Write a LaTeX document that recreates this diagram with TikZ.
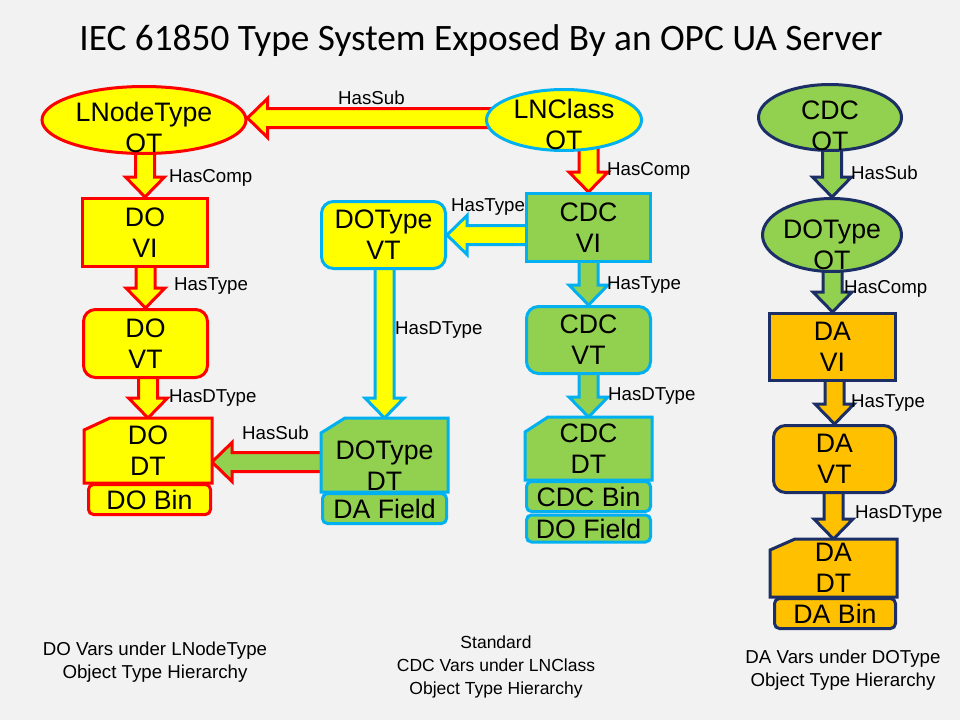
\documentclass[tikz,border=0pt]{standalone}
\usepackage{fontspec}
\setmainfont{Liberation Sans}
\newfontfamily\titlefont{Carlito}
\usetikzlibrary{shapes.geometric,calc}
\definecolor{bgc}{HTML}{F2F2F2}
\definecolor{cyel}{HTML}{FFFF00}
\definecolor{cred}{HTML}{FF0000}
\definecolor{cblu}{HTML}{00B0F0}
\definecolor{cgrn}{HTML}{92D050}
\definecolor{corg}{HTML}{FFC000}
\definecolor{cnav}{HTML}{1B2F66}
\pgfdeclarelayer{bgl}\pgfdeclarelayer{arrl}\pgfdeclarelayer{shpl}
\pgfsetlayers{bgl,arrl,shpl,main}

\newcommand\blkdown[3]{%
 \begin{pgfonlayer}{arrl}
 \draw[#1] let \p1=(#2.center), \p2=(#3.north) in
 ({\x2-9.5pt},\y1) -- ({\x2+9.5pt},\y1) -- ({\x2+9.5pt},{\y2+20pt}) -- ({\x2+19.5pt},{\y2+20pt}) -- (\x2,\y2) -- ({\x2-19.5pt},{\y2+20pt}) -- ({\x2-9.5pt},{\y2+20pt}) -- cycle;
 \end{pgfonlayer}}

\newcommand\blkleft[4]{%
 \begin{pgfonlayer}{arrl}
 \draw[#1] let \p1=(#2.center), \p2=(#3.east) in
 (\x1,{\y2+(#4)-9.5pt}) -- (\x1,{\y2+(#4)+9.5pt}) -- ({\x2+20pt},{\y2+(#4)+9.5pt}) -- ({\x2+20pt},{\y2+(#4)+19.5pt}) -- (\x2,{\y2+(#4)}) -- ({\x2+20pt},{\y2+(#4)-19.5pt}) -- ({\x2+20pt},{\y2+(#4)-9.5pt}) -- cycle;
 \end{pgfonlayer}}

\newcommand\chamf[4]{%
 \begin{pgfonlayer}{shpl}
 \filldraw[#1] let \p1=(#2.north west), \p2=(#2.south east) in
 (\x1,{\y1-#4}) -- ({\x1+#3},\y1) -- (\x2,\y1) -- (\x2,\y2) -- (\x1,\y2) -- cycle;
 \end{pgfonlayer}}

\begin{document}
\begin{tikzpicture}[x=1pt,y=-1pt,
 ntext/.style={font=\fontsize{26.7}{31}\selectfont, align=center, inner sep=0pt},
 stRY/.style={draw=cred, fill=cyel, line width=3pt},
 stBY/.style={draw=cblu, fill=cyel, line width=3pt},
 stBG/.style={draw=cblu, fill=cgrn, line width=3pt},
 stRG/.style={draw=cred, fill=cgrn, line width=3pt},
 stNG/.style={draw=cnav, fill=cgrn, line width=3pt},
 stNO/.style={draw=cnav, fill=corg, line width=3pt},
 ell/.style={ellipse, inner sep=0pt},
 rnd/.style={rounded corners=12pt},
 bin/.style={rounded corners=5pt},
 chm/.style={rectangle, draw=none, fill=none, outer sep=0pt, ntext},
 lbl/.style={font=\fontsize{18.7}{22}\selectfont, anchor=base west, inner sep=0pt},
 capt/.style={font=\fontsize{17.5}{23}\selectfont, align=center, anchor=base, inner sep=0pt},
 captb/.style={font=\fontsize{18.7}{23}\selectfont, align=center, anchor=base, inner sep=0pt},
 ttl/.style={font=\titlefont\fontsize{37.3}{44}\selectfont, anchor=base, inner sep=0pt}]
\begin{pgfonlayer}{bgl}\fill[bgc] (0,0) rectangle (960,720);\end{pgfonlayer}
\useasboundingbox (0,0) rectangle (960,720);

\node[ttl] (title) at (481,50) {IEC 61850 Type System Exposed By an OPC UA Server};

% left column
\node[ell, stRY, minimum width=204, minimum height=67] (lnt) at (144,120) {};
\node[ntext] (lnttx) at (144,127) {LNodeType\\OT};
\node[ntext, stRY, minimum width=125, minimum height=68] (dovi) at (145,232.5) {DO\\VI};
\node[ntext, stRY, rnd, minimum width=124, minimum height=68] (dovt) at (145.5,343.5) {DO\\VT};
\node[chm, minimum width=128, minimum height=65] (dodt) at (148,450.5) {DO\\DT};
\chamf{stRY}{dodt}{26pt}{12pt}
\node[ntext, stRY, bin, minimum width=122, minimum height=30] (dobin) at (149.5,499.5) {DO Bin};

% middle column
\node[ell, stBY, minimum width=155, minimum height=61] (lnc) at (564,120) {};
\node[ntext] (lnctx) at (564,124) {LNClass\\OT};
\node[ntext, stBG, minimum width=124, minimum height=68] (cdcvi) at (588.5,227.5) {CDC\\VI};
\node[ntext, stBY, rnd, minimum width=124, minimum height=67] (dotvt) at (383.5,235) {DOType\\VT};
\node[chm, minimum width=127, minimum height=74] (dotdt) at (384.5,455) {};
\chamf{stBG}{dotdt}{24pt}{15pt}
\node[ntext] (dotdttx) at (384.5,466) {DOType\\DT};
\node[ntext, stBG, bin, minimum width=124, minimum height=30] (dafield) at (384.5,508.5) {DA Field};
\node[ntext, stBG, rnd, minimum width=124, minimum height=67] (cdcvt) at (588.5,340) {CDC\\VT};
\node[chm, minimum width=127, minimum height=63] (cdcdt) at (588.5,448.5) {CDC\\DT};
\chamf{stBG}{cdcdt}{23pt}{15pt}
\node[ntext, stBG, bin, minimum width=124, minimum height=30] (cdcbin) at (588.5,496.5) {CDC Bin};
\node[ntext, stBG, bin, minimum width=124, minimum height=27] (dofield) at (588.5,528.5) {DO Field};

% right column
\node[ell, stNG, minimum width=143, minimum height=66] (cdcot) at (830,117.5) {};
\node[ntext] (cdcottx) at (830,126) {CDC\\OT};
\node[ell, stNG, minimum width=139, minimum height=73] (dotot) at (832,235) {};
\node[ntext] (dotottx) at (832,245) {DOType\\OT};
\node[ntext, stNO, minimum width=126, minimum height=67] (davi) at (832.5,347) {DA\\VI};
\node[ntext, stNO, rnd, minimum width=122, minimum height=67] (davt) at (834.5,459) {DA\\VT};
\node[chm, minimum width=127, minimum height=58] (dadt) at (833.5,568) {DA\\DT};
\chamf{stNO}{dadt}{25pt}{11pt}
\node[ntext, stNO, bin, minimum width=121, minimum height=30] (dabin) at (835,613.5) {DA Bin};

% block arrows
\blkleft{stRY}{lnc}{lnt}{2pt}
\blkdown{stRY}{lnt}{dovi}
\blkdown{stRY}{dovi}{dovt}
\blkdown{stRY}{dovt}{dodt}
\blkleft{stRG}{dotdt}{dodt}{-11.5pt}
\blkdown{stRY}{lnc}{cdcvi}
\blkleft{stBY}{cdcvi}{dotvt}{0pt}
\blkdown{stBY}{dotvt}{dotdt}
\blkdown{stBG}{cdcvi}{cdcvt}
\blkdown{stBG}{cdcvt}{cdcdt}
\blkdown{stNG}{cdcot}{dotot}
\blkdown{stNG}{dotot}{davi}
\blkdown{stNO}{davi}{davt}
\blkdown{stNO}{davt}{dadt}

% labels
\node[lbl] (l1) at (338,104.6) {HasSub};
\node[lbl] (l2) at (169,182.6) {HasComp};
\node[lbl] (l3) at (174,290.6) {HasType};
\node[lbl] (l4) at (169,402.6) {HasDType};
\node[lbl] (l5) at (242,439.6) {HasSub};
\node[lbl] (l6) at (607,175.6) {HasComp};
\node[lbl] (l7) at (451,211.6) {HasType};
\node[lbl] (l8) at (395,334.6) {HasDType};
\node[lbl] (l9) at (607,289.6) {HasType};
\node[lbl] (l10) at (608,400.6) {HasDType};
\node[lbl] (l11) at (851,179.6) {HasSub};
\node[lbl] (l12) at (844,293.6) {HasComp};
\node[lbl] (l13) at (851,407.6) {HasType};
\node[lbl] (l14) at (855,518.6) {HasDType};

% captions (base = last line)
\node[captb] (cap1) at (155,678.7) {DO Vars under LNodeType\\Object Type Hierarchy};
\node[capt] (cap2) at (496,694.3) {Standard\\CDC Vars under LNClass\\Object Type Hierarchy};
\node[captb] (cap3) at (843,686.7) {DA Vars under DOType\\Object Type Hierarchy};
\end{tikzpicture}
\end{document}
